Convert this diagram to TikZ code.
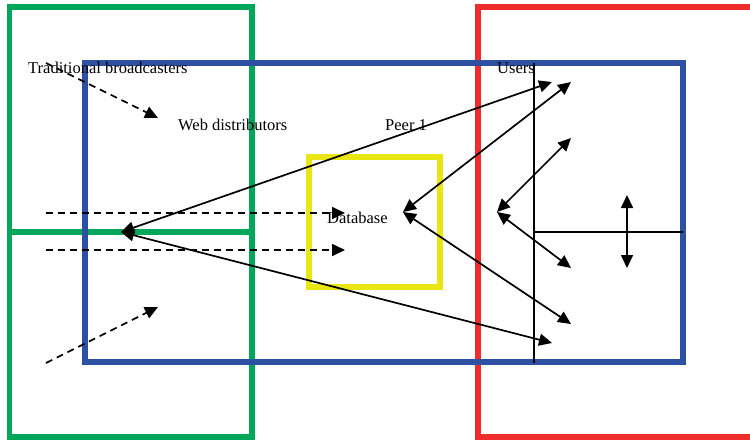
\documentclass[tikz,border=0pt]{standalone}
\usepackage{fontspec}
\setmainfont{Liberation Serif}
\usetikzlibrary{arrows.meta}
\definecolor{cgreen}{RGB}{0,166,90}
\definecolor{cblue}{RGB}{46,80,162}
\definecolor{cyellow}{RGB}{234,230,20}
\definecolor{cred}{RGB}{238,44,44}
\tikzset{
  frame/.style={line width=5.5pt},
  lbl/.style={font=\fontsize{16.5}{19}\selectfont, inner sep=0pt, anchor=base west},
  tip/.style={-{Triangle[length=13pt,width=12pt]}},
  dtip/.style={{Triangle[length=13pt,width=12pt]}-{Triangle[length=13pt,width=12pt]}},
  sol/.style={line width=1.7pt},
  dsh/.style={line width=1.7pt, dash pattern=on 7pt off 5pt},
  thin/.style={line width=1.2pt}
}
\begin{document}
\begin{tikzpicture}[x=1pt,y=-1pt]
\useasboundingbox (0,0) rectangle (750,440);
\clip (0,0) rectangle (750,440);
% frames
\draw[frame,cgreen] (9.5,7) rectangle (252,232);
\draw[frame,cgreen] (9.5,232) rectangle (252,437);
\draw[frame,cred] (478,7) rectangle (770,437);
\draw[frame,cblue] (85,63) rectangle (683,362);
\draw[frame,cyellow] (309,157) rectangle (440,287);
% thin lines
\coordinate (vt) at (534,63);
\coordinate (vb) at (534,363);
\coordinate (hl) at (534,232);
\coordinate (hr) at (683,232);
\draw[thin] (vt) -- (vb);
\draw[thin] (hl) -- (hr);
% labels
\node[lbl] (trad) at (28,73) {Traditional broadcasters};
\node[lbl] (web) at (178,130) {Web distributors};
\node[lbl] (peer) at (385,130) {Peer 1};
\node[lbl] (db) at (327,223) {Database};
\node[lbl] (users) at (497,73) {Users};
% coordinates for arrows
\coordinate (d1s) at (46,63);  \coordinate (d1e) at (158,118);
\coordinate (d2s) at (46,213); \coordinate (d2e) at (345,213);
\coordinate (d3s) at (46,250); \coordinate (d3e) at (345,250);
\coordinate (d4s) at (46,363); \coordinate (d4e) at (158,307);
\coordinate (hub) at (121,232);
\coordinate (dbp) at (403,212);
\coordinate (up) at (497,212);
\coordinate (u1) at (552,82);
\coordinate (u2) at (571,82);
\coordinate (u3) at (571,138);
\coordinate (u4) at (571,268);
\coordinate (u5) at (571,324);
\coordinate (u6) at (552,343);
\coordinate (vv1) at (627,195);
\coordinate (vv2) at (627,268);
% dashed arrows
\draw[dsh,tip] (d1s) -- (d1e);
\draw[dsh,tip] (d2s) -- (d2e);
\draw[dsh,tip] (d3s) -- (d3e);
\draw[dsh,tip] (d4s) -- (d4e);
% solid double arrows
\draw[sol,dtip] (hub) -- (u1);
\draw[sol,dtip] (dbp) -- (u2);
\draw[sol,dtip] (up) -- (u3);
\draw[sol,dtip] (up) -- (u4);
\draw[sol,dtip] (dbp) -- (u5);
\draw[sol,dtip] (hub) -- (u6);
\draw[sol,dtip] (vv1) -- (vv2);
\end{tikzpicture}
\end{document}
